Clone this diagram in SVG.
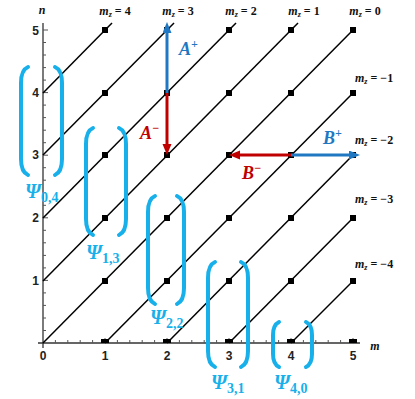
<svg xmlns="http://www.w3.org/2000/svg" width="415" height="399" viewBox="0 0 415 399">
<style>
.ax{stroke:#333;stroke-width:1.3;fill:none}
.tk{stroke:#555;stroke-width:1}
.tl{font-family:"Liberation Sans",Arial,sans-serif;font-weight:bold;font-size:12px;fill:#222}
.ln{stroke:#000;stroke-width:1.5;fill:none}
.mk{fill:#000}
.mz{font-family:"Liberation Serif","Times New Roman",serif;font-weight:bold;font-size:12px;fill:#111}
.it{font-style:italic}
.br{stroke:#18b0ea;stroke-width:4;fill:none;stroke-linecap:round}
.psi{font-family:"Liberation Serif","Times New Roman",serif;font-weight:bold;font-style:italic;font-size:20px;fill:#18b0ea}
.sub{font-style:normal;font-size:14px}
.blue{stroke:#1f78c1;stroke-width:3;fill:none}
.red{stroke:#c00000;stroke-width:3;fill:none}
.lab{font-family:"Liberation Serif","Times New Roman",serif;font-style:italic;font-weight:bold;font-size:18px}
</style>
<defs>
<marker id="hb" markerUnits="userSpaceOnUse" markerWidth="12" markerHeight="10" refX="0" refY="4.5" orient="auto"><path d="M0,0 L11,4.5 L0,9 z" fill="#1f78c1"/></marker>
<marker id="hr" markerUnits="userSpaceOnUse" markerWidth="12" markerHeight="10" refX="0" refY="4.5" orient="auto"><path d="M0,0 L11,4.5 L0,9 z" fill="#c00000"/></marker>
</defs>
<g id="axes">
<line class="ax" x1="38" y1="343" x2="360" y2="343"/>
<line class="ax" x1="43" y1="348" x2="43" y2="23"/>
<path class="tk" d="M55.4,343v-3M67.8,343v-3M80.2,343v-3M92.6,343v-3M105,343v-5M117.4,343v-3M129.8,343v-3M142.2,343v-3M154.6,343v-3M167,343v-5M179.4,343v-3M191.8,343v-3M204.2,343v-3M216.6,343v-3M229,343v-5M241.4,343v-3M253.8,343v-3M266.2,343v-3M278.6,343v-3M291,343v-5M303.4,343v-3M315.8,343v-3M328.2,343v-3M340.6,343v-3M353,343v-5"/>
<path class="tk" d="M43,330.5h3M43,318h3M43,305.4h3M43,292.9h3M43,280.4h5M43,267.9h3M43,255.4h3M43,242.8h3M43,230.3h3M43,217.8h5M43,205.3h3M43,192.8h3M43,180.2h3M43,167.7h3M43,155.2h5M43,142.7h3M43,130.2h3M43,117.6h3M43,105.1h3M43,92.6h5M43,80.1h3M43,67.6h3M43,55h3M43,42.5h3M43,30h5"/>
<text class="tl" x="43" y="360" text-anchor="middle">0</text>
<text class="tl" x="105" y="360" text-anchor="middle">1</text>
<text class="tl" x="167" y="360" text-anchor="middle">2</text>
<text class="tl" x="229" y="360" text-anchor="middle">3</text>
<text class="tl" x="291" y="360" text-anchor="middle">4</text>
<text class="tl" x="353" y="360" text-anchor="middle">5</text>
<text class="tl" x="39" y="285" text-anchor="end">1</text>
<text class="tl" x="39" y="222" text-anchor="end">2</text>
<text class="tl" x="39" y="159" text-anchor="end">3</text>
<text class="tl" x="39" y="97" text-anchor="end">4</text>
<text class="tl" x="39" y="35" text-anchor="end">5</text>
<text class="mz it" x="42" y="14" text-anchor="middle">n</text>
<text class="mz it" x="375" y="350" text-anchor="middle">m</text>
</g>
<g id="connectors">
<line class="ln" x1="43" y1="93" x2="112" y2="23"/>
<line class="ln" x1="43" y1="155" x2="174" y2="23"/>
<line class="ln" x1="43" y1="218" x2="236" y2="23"/>
<line class="ln" x1="43" y1="281" x2="298" y2="23"/>
<line class="ln" x1="43" y1="343" x2="353" y2="30"/>
<line class="ln" x1="105" y1="343" x2="353" y2="93"/>
<line class="ln" x1="167" y1="343" x2="353" y2="155"/>
<line class="ln" x1="229" y1="343" x2="353" y2="218"/>
<line class="ln" x1="291" y1="343" x2="353" y2="281"/>
</g>
<g id="markers" class="mk">
<rect x="102" y="27" width="6" height="6"/><rect x="164" y="27" width="6" height="6"/><rect x="226" y="27" width="6" height="6"/><rect x="288" y="27" width="6" height="6"/><rect x="350" y="27" width="6" height="6"/>
<rect x="102" y="90" width="6" height="6"/><rect x="164" y="90" width="6" height="6"/><rect x="226" y="90" width="6" height="6"/><rect x="288" y="90" width="6" height="6"/><rect x="350" y="90" width="6" height="6"/>
<rect x="102" y="152" width="6" height="6"/><rect x="164" y="152" width="6" height="6"/><rect x="226" y="152" width="6" height="6"/><rect x="288" y="152" width="6" height="6"/><rect x="350" y="152" width="6" height="6"/>
<rect x="102" y="215" width="6" height="6"/><rect x="164" y="215" width="6" height="6"/><rect x="226" y="215" width="6" height="6"/><rect x="288" y="215" width="6" height="6"/><rect x="350" y="215" width="6" height="6"/>
<rect x="102" y="278" width="6" height="6"/><rect x="164" y="278" width="6" height="6"/><rect x="226" y="278" width="6" height="6"/><rect x="288" y="278" width="6" height="6"/><rect x="350" y="278" width="6" height="6"/>
<rect x="101" y="339" width="8" height="4"/><rect x="163" y="339" width="8" height="4"/><rect x="225" y="339" width="8" height="4"/><rect x="287" y="339" width="8" height="4"/><rect x="349" y="339" width="8" height="4"/>
</g>
<g id="mz-labels">
<text class="mz" x="115" y="15" text-anchor="middle"><tspan class="it">m</tspan><tspan class="it" font-size="8" dy="2">z</tspan><tspan dy="-2"> = 4</tspan></text>
<text class="mz" x="178" y="15" text-anchor="middle"><tspan class="it">m</tspan><tspan class="it" font-size="8" dy="2">z</tspan><tspan dy="-2"> = 3</tspan></text>
<text class="mz" x="241" y="15" text-anchor="middle"><tspan class="it">m</tspan><tspan class="it" font-size="8" dy="2">z</tspan><tspan dy="-2"> = 2</tspan></text>
<text class="mz" x="304" y="15" text-anchor="middle"><tspan class="it">m</tspan><tspan class="it" font-size="8" dy="2">z</tspan><tspan dy="-2"> = 1</tspan></text>
<text class="mz" x="365" y="15" text-anchor="middle"><tspan class="it">m</tspan><tspan class="it" font-size="8" dy="2">z</tspan><tspan dy="-2"> = 0</tspan></text>
<text class="mz" x="355" y="82"><tspan class="it">m</tspan><tspan class="it" font-size="8" dy="2">z</tspan><tspan dy="-2"> = −1</tspan></text>
<text class="mz" x="355" y="144"><tspan class="it">m</tspan><tspan class="it" font-size="8" dy="2">z</tspan><tspan dy="-2"> = −2</tspan></text>
<text class="mz" x="355" y="203"><tspan class="it">m</tspan><tspan class="it" font-size="8" dy="2">z</tspan><tspan dy="-2"> = −3</tspan></text>
<text class="mz" x="355" y="268"><tspan class="it">m</tspan><tspan class="it" font-size="8" dy="2">z</tspan><tspan dy="-2"> = −4</tspan></text>
</g>
<g id="ladder-arrows">
<line class="blue" x1="167" y1="93" x2="167" y2="33" marker-end="url(#hb)"/>
<line class="red" x1="167" y1="93" x2="167" y2="144" marker-end="url(#hr)"/>
<line class="red" x1="291" y1="155" x2="240" y2="155" marker-end="url(#hr)"/>
<line class="blue" x1="291" y1="155" x2="349" y2="155" marker-end="url(#hb)"/>
<text class="lab" x="179" y="55" fill="#1f78c1">A<tspan font-size="12" dy="-7">+</tspan></text>
<text class="lab" x="140" y="139" fill="#c00000">A<tspan font-size="12" dy="-7">−</tspan></text>
<text class="lab" x="242" y="179" fill="#c00000">B<tspan font-size="12" dy="-7">−</tspan></text>
<text class="lab" x="323" y="144" fill="#1f78c1">B<tspan font-size="12" dy="-7">+</tspan></text>
</g>
<g id="psi04">
<path class="br" d="M28,67 Q21,70 21,83 V159 Q21,172 28,175"/>
<path class="br" d="M55,67 Q62,70 62,83 V159 Q62,172 55,175"/>
<text class="psi" x="25" y="198">Ψ<tspan class="sub" dy="4">0,4</tspan></text>
</g>
<g id="psi13">
<path class="br" d="M93,128 Q86,131 86,144 V219 Q86,232 93,235"/>
<path class="br" d="M119,128 Q126,131 126,144 V219 Q126,232 119,235"/>
<text class="psi" x="86" y="259">Ψ<tspan class="sub" dy="4">1,3</tspan></text>
</g>
<g id="psi22">
<path class="br" d="M155,196 Q148,199 148,212 V288 Q148,301 155,304"/>
<path class="br" d="M177,196 Q184,199 184,212 V288 Q184,301 177,304"/>
<text class="psi" x="150" y="324">Ψ<tspan class="sub" dy="4">2,2</tspan></text>
</g>
<g id="psi31">
<path class="br" d="M215,262 Q208,265 208,278 V351 Q208,364 215,367"/>
<path class="br" d="M241,262 Q248,265 248,278 V351 Q248,364 241,367"/>
<text class="psi" x="211" y="389">Ψ<tspan class="sub" dy="4">3,1</tspan></text>
</g>
<g id="psi40">
<path class="br" d="M279,322 Q273,325 273,335 V354 Q273,364 279,367"/>
<path class="br" d="M306,322 Q312,325 312,335 V354 Q312,364 306,367"/>
<text class="psi" x="274" y="389">Ψ<tspan class="sub" dy="4">4,0</tspan></text>
</g>
</svg>
